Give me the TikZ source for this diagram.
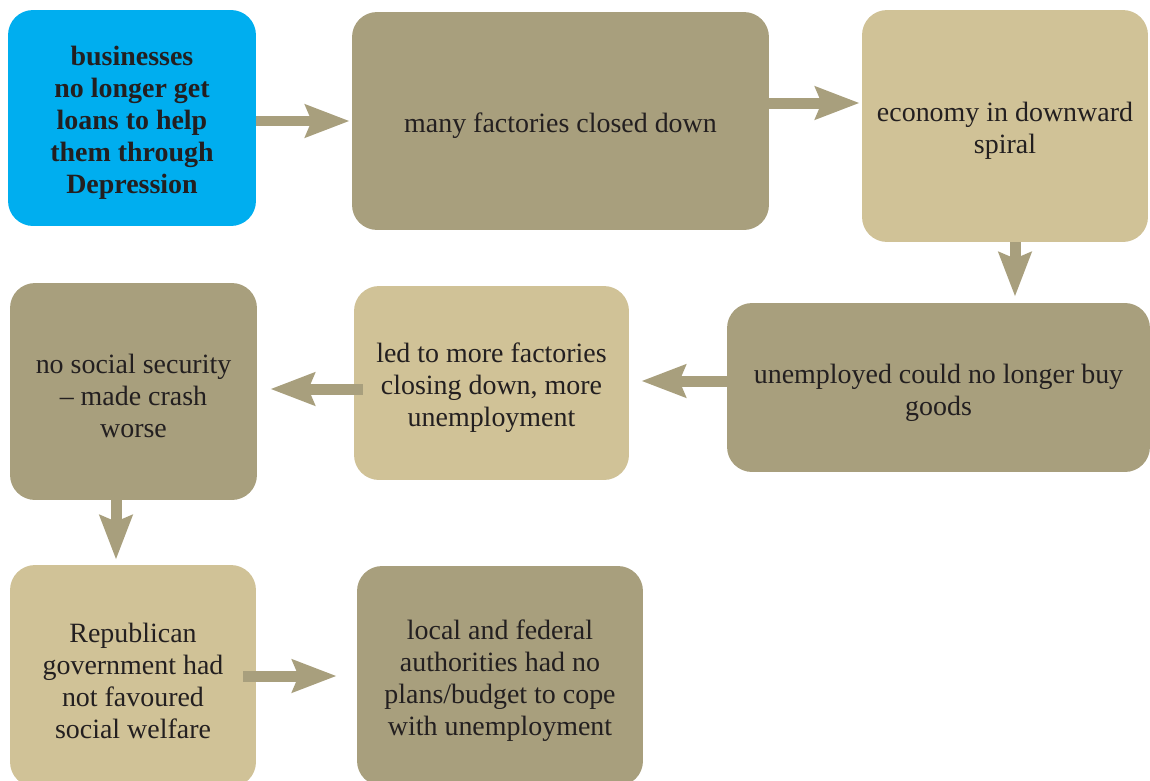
\documentclass[tikz,border=0pt]{standalone}
\usepackage{fontspec}
\setmainfont{Liberation Serif}
\usetikzlibrary{arrows.meta,positioning}
\definecolor{skyblue}{HTML}{00AEEF}
\definecolor{khakidark}{HTML}{A89F7D}
\definecolor{khakilight}{HTML}{D0C297}
\definecolor{inkgrey}{HTML}{231F20}
\newcommand{\padtop}{\rule{0pt}{16.6pt}}

\begin{document}
\begin{tikzpicture}[
  x=0.02cm, y=-0.02cm,
  box/.style={rounded corners=0.5cm, align=center, text=inkgrey, inner sep=0pt,
              font=\fontsize{15.9}{18.2}\selectfont},
  dark/.style={box, fill=khakidark},
  light/.style={box, fill=khakilight},
  flow/.style={draw=khakidark, line width=0.22cm,
               -{Stealth[length=0.88cm, width=0.64cm, inset=0.12cm]}}
]
\useasboundingbox (0,0) rectangle (1150,781);

% top row
\node[box, fill=skyblue, minimum width=4.96cm, minimum height=4.32cm,
      font=\fontsize{15.9}{18.2}\selectfont\bfseries] (loans) at (132,118)
  {\padtop businesses\\ no longer get\\ loans to help\\ them through\\ Depression};
\node[dark, minimum width=8.34cm, minimum height=4.36cm] (closed) at (560.5,121)
  {\padtop many factories closed down};
\node[light, minimum width=5.72cm, minimum height=4.64cm] (spiral) at (1005,126)
  {\padtop economy in downward\\ spiral};

% middle row
\node[dark, minimum width=8.46cm, minimum height=3.38cm] (unemployed) at (938.5,387.5)
  {\padtop unemployed could no longer buy\\ goods};
\node[light, minimum width=5.5cm, minimum height=3.88cm] (morecl) at (491.5,383)
  {\padtop led to more factories\\ closing down, more\\ unemployment};
\node[dark, minimum width=4.94cm, minimum height=4.34cm] (nosocial) at (133.5,391.5)
  {\padtop no social security\\ -- made crash\\ worse};

% bottom row
\node[light, minimum width=4.92cm, minimum height=4.44cm] (republican) at (133,676)
  {\padtop Republican\\ government had\\ not favoured\\ social welfare};
\node[dark, minimum width=5.72cm, minimum height=4.4cm] (authorities) at (500,676)
  {\padtop local and federal\\ authorities had no\\ plans/budget to cope\\ with unemployment};

% arrows
\draw[flow, shorten >=0.04cm] ([yshift=-0.06cm]loans.east) -- ([yshift=-0.06cm]loans.east -| closed.west);
\draw[flow, shorten >=0.04cm] ([yshift=0.36cm]closed.east) -- ([yshift=0.36cm]closed.east -| spiral.west);
\draw[flow, shorten >=0.12cm] ([xshift=0.2cm]spiral.south) -- ([xshift=0.2cm]spiral.south |- unemployed.north);
\draw[flow, shorten >=0.24cm] ([yshift=0.13cm]unemployed.west) -- ([yshift=0.13cm]unemployed.west -| morecl.east);
\draw[flow, shorten <=-0.18cm, shorten >=0.26cm] ([yshift=-0.12cm]morecl.west) -- ([yshift=-0.12cm]morecl.west -| nosocial.east);
\draw[flow, shorten >=0.1cm] ([xshift=-0.35cm]nosocial.south) -- ([xshift=-0.35cm]nosocial.south |- republican.north);
\draw[flow, shorten <=-0.26cm, shorten >=0.4cm] (republican.east) -- (authorities.west);
\end{tikzpicture}
\end{document}
